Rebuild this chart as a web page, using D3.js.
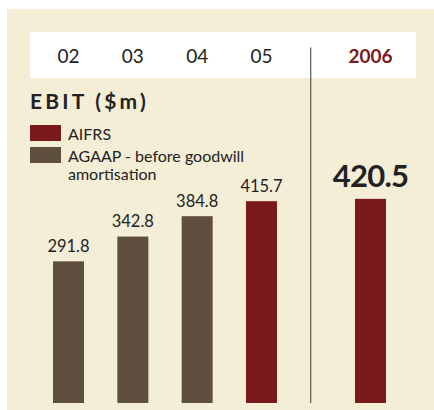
<!DOCTYPE html>
<html>
<head>
<meta charset="utf-8">
<script src="https://cdn.jsdelivr.net/npm/d3@7"></script>
<style>
  body { margin: 0; background: #fff; }
  svg { display: block; font-family: Lato, "Open Sans", sans-serif; }
</style>
</head>
<body>
<div id="chart"></div>
<script>
// EBIT ($m) by year
const years = ["02", "03", "04", "05", "2006"];
const ebit = [291.8, 342.8, 384.8, 415.7, 420.5];
const standard = ["AGAAP", "AGAAP", "AGAAP", "AIFRS", "AIFRS"];
const valueLabels = ["291.8", "342.8", "384.8", "415.7", "420.5"];
const legendItems = ["AIFRS", "AGAAP - before goodwill|amortisation"];

const W = 434, H = 410;
const red = "#7b1a1a", brown = "#5e4e3e", ink = "#222";

const svg = d3.select("#chart").append("svg")
  .attr("width", W).attr("height", H);

// panel background
svg.append("rect").attr("x", 7).attr("y", 9)
  .attr("width", W - 7).attr("height", H - 9).attr("fill", "#f4eed7");

// white year band
svg.append("rect").attr("x", 30).attr("y", 32)
  .attr("width", 386).attr("height", 46).attr("fill", "#fff");

// x positions: first four evenly spaced, 2006 set apart past the divider
const x = d3.scalePoint().domain(years.slice(0, 4)).range([68.5, 261.5]);
const xPos = d => d === "2006" ? 370.5 : x(d);
const y = d3.scaleLinear().domain([0, 430]).range([403, 403 - 430 * 0.4855]);
const barW = 31;

// year labels
svg.selectAll("text.year").data(years).enter().append("text")
  .attr("class", "year")
  .attr("x", d => xPos(d)).attr("y", 63)
  .attr("text-anchor", "middle")
  .attr("font-size", 19)
  .attr("font-weight", d => d === "2006" ? 700 : 400)
  .attr("fill", d => d === "2006" ? red : ink)
  .text(d => d);

// divider
svg.append("line").attr("x1", 310.7).attr("x2", 310.7)
  .attr("y1", 47.5).attr("y2", 403)
  .attr("stroke", "#555").attr("stroke-width", 1.2);

// title
svg.append("text").attr("x", 30).attr("y", 109)
  .attr("font-size", 21).attr("font-weight", 700)
  .attr("letter-spacing", 3.2).attr("fill", ink)
  .text("EBIT ($m)");

// legend
const legend = svg.selectAll("g.legend").data(legendItems).enter().append("g")
  .attr("class", "legend")
  .attr("transform", (d, i) => `translate(30,${125 + i * 22})`);
legend.append("rect").attr("width", 31).attr("height", 16)
  .attr("fill", (d, i) => i === 0 ? red : brown);
legend.append("text").attr("x", 38).attr("y", 14.5)
  .attr("font-size", 16).attr("fill", ink)
  .selectAll("tspan").data(d => d.split("|")).enter().append("tspan")
  .attr("x", 38).attr("dy", (d, i) => i === 0 ? 0 : 18)
  .text(d => d);

// bars
svg.selectAll("rect.bar").data(ebit).enter().append("rect")
  .attr("class", "bar")
  .attr("x", (d, i) => xPos(years[i]) - barW / 2)
  .attr("y", d => y(d))
  .attr("width", barW)
  .attr("height", d => y(0) - y(d))
  .attr("fill", (d, i) => standard[i] === "AIFRS" ? red : brown);

// value labels
svg.selectAll("text.val").data(ebit).enter().append("text")
  .attr("class", "val")
  .attr("x", (d, i) => xPos(years[i]))
  .attr("y", (d, i) => y(d) - (i === 4 ? 11.5 : 9.5))
  .attr("text-anchor", "middle")
  .attr("font-size", (d, i) => i === 4 ? 31 : 16.5)
  .attr("font-weight", (d, i) => i === 4 ? 700 : 400)
  .attr("letter-spacing", (d, i) => i === 4 ? -0.8 : 0)
  .attr("fill", ink)
  .text((d, i) => valueLabels[i]);
</script>
</body>
</html>
